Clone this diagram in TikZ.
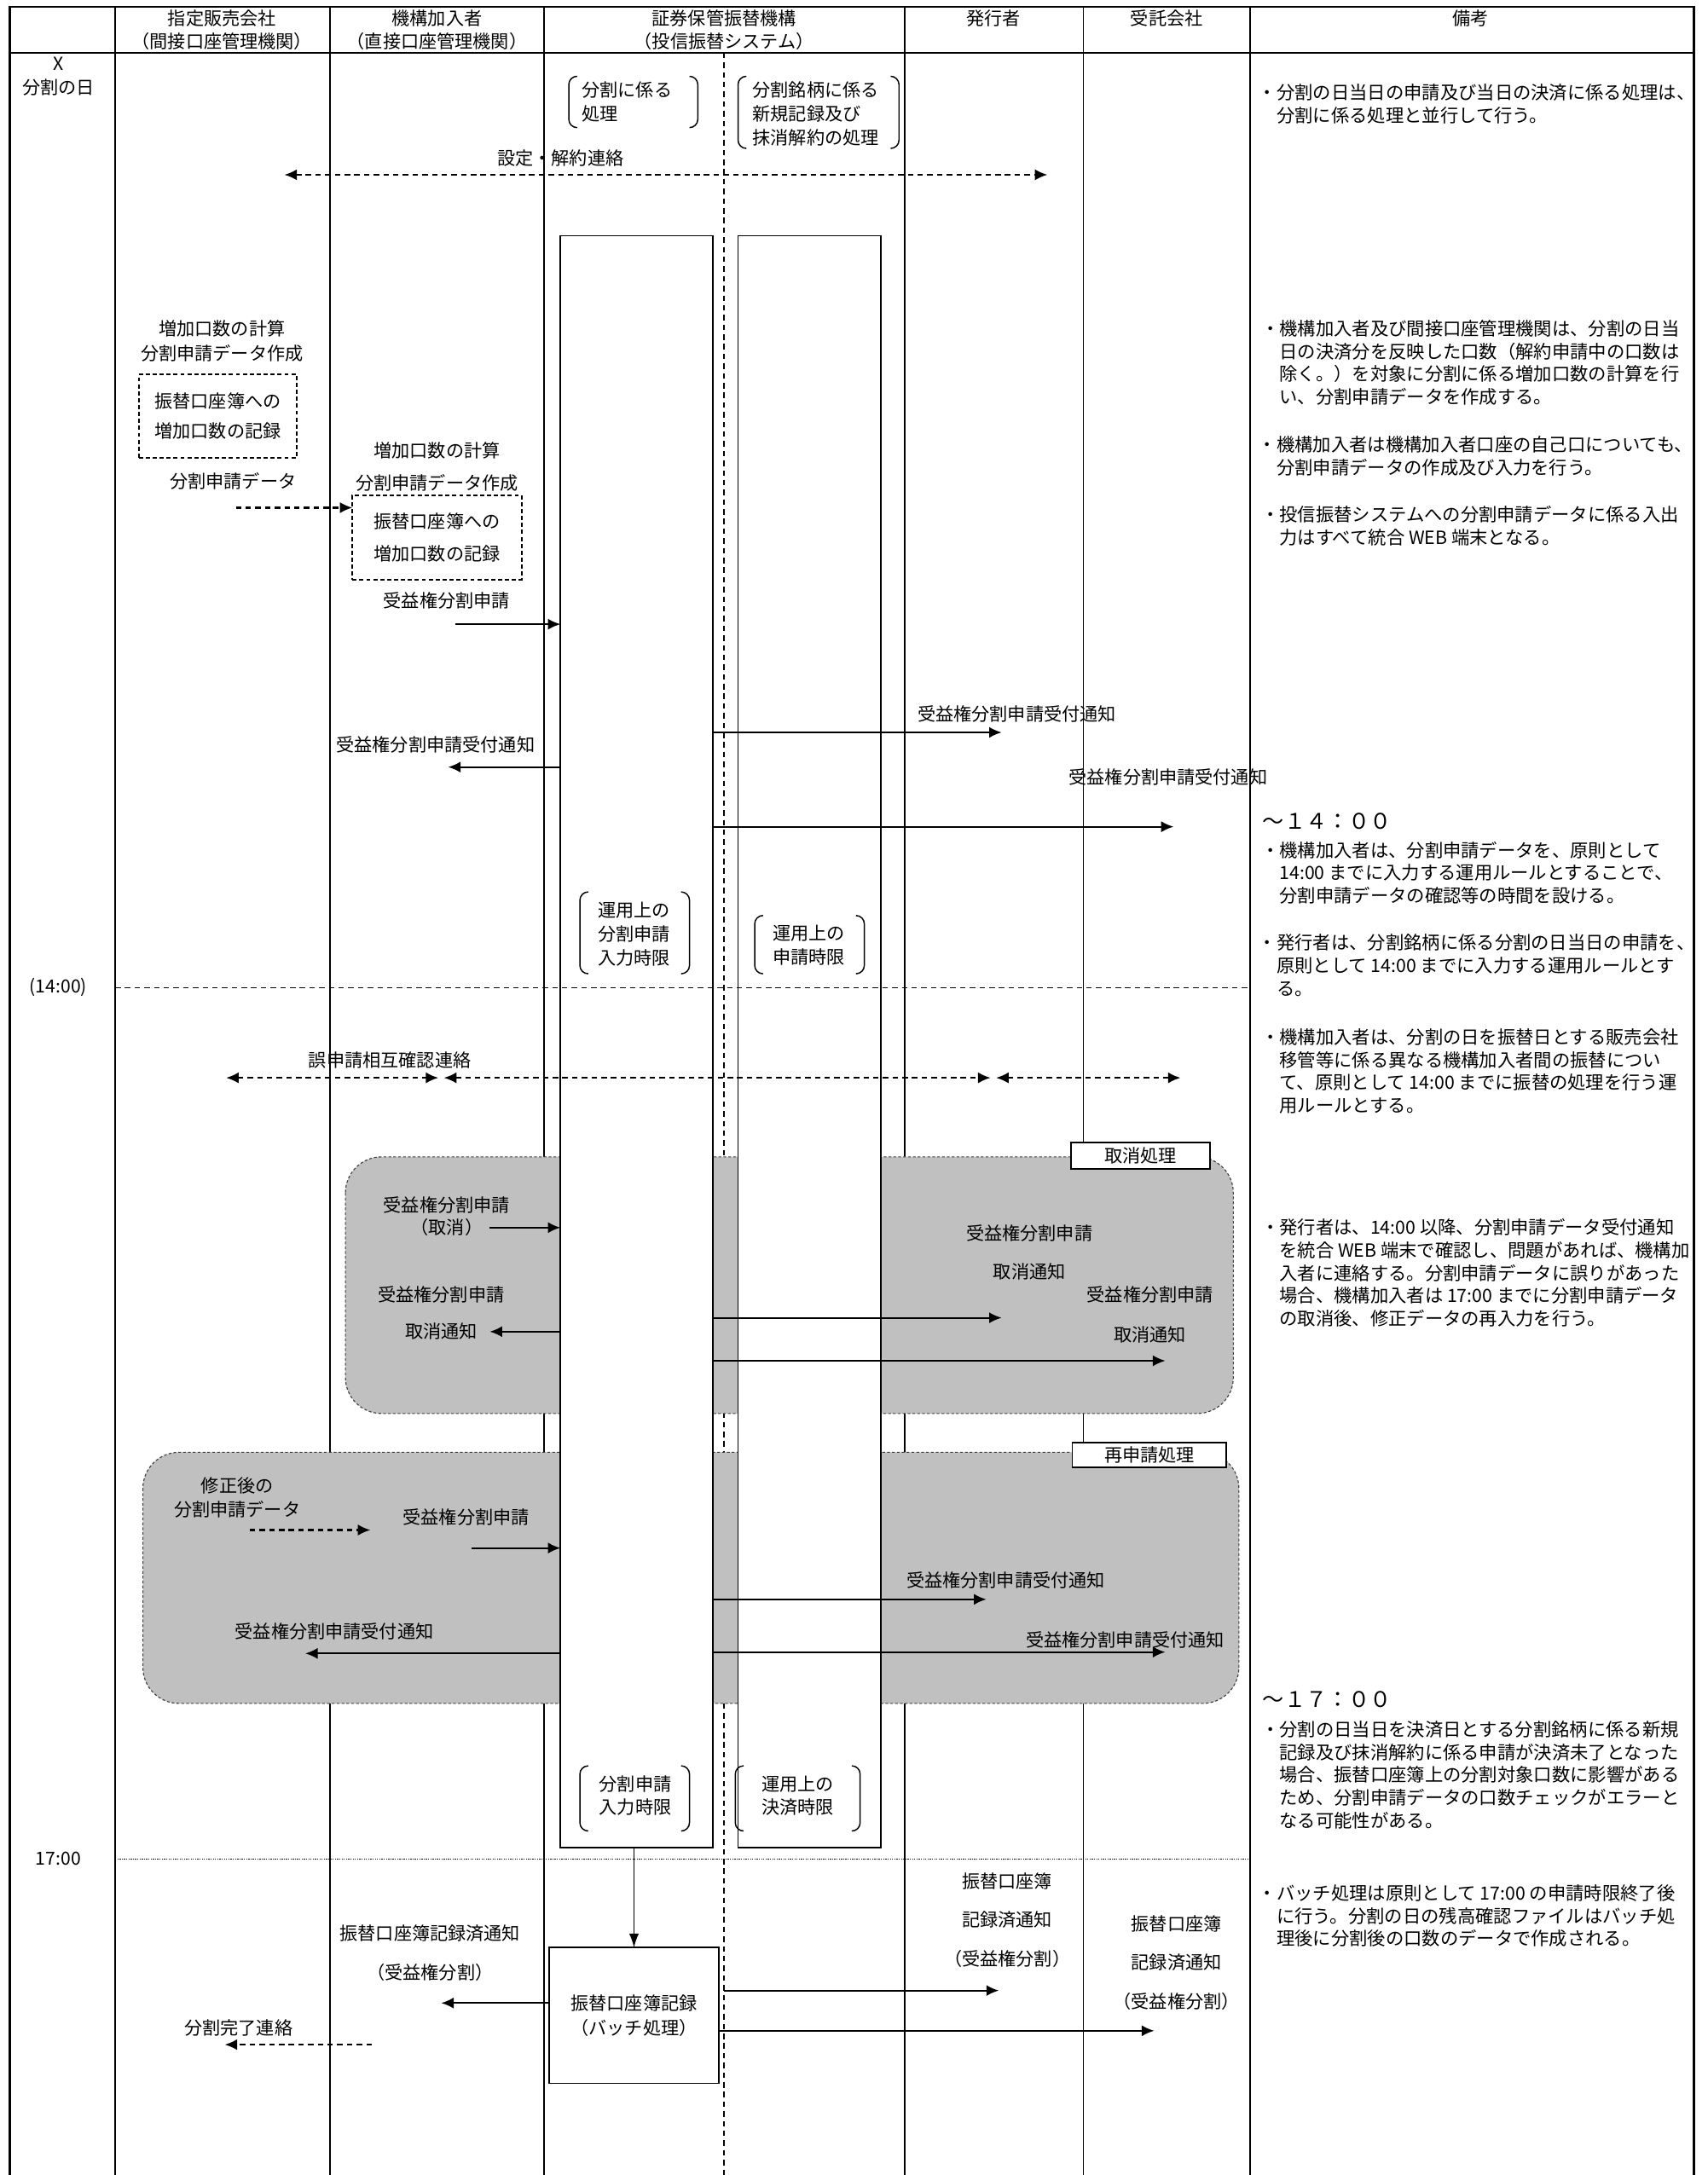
\documentclass[tikz,border=0pt]{standalone}
\usepackage{fontspec}
\setmainfont{Noto Sans CJK JP}
\usetikzlibrary{arrows.meta,calc}
\definecolor{regiongray}{RGB}{192,192,192}
\newcommand\fsL{\fontsize{13}{17}\selectfont}
\newcommand\fsR{\fontsize{13.1}{16.4}\selectfont}
\newcommand\fsT{\fontsize{15.5}{17}\selectfont}
\newcommand\mybrk[4]{%
  \draw[brk] (#1+6,#2) -- (#1,#2) -- (#1,#4) -- (#1+6,#4);
  \draw[brk] (#3-6,#2) -- (#3,#2) -- (#3,#4) -- (#3-6,#4);}
\tikzset{
  lbl/.style={inner sep=0pt, font=\fsL, align=center},
  blbl/.style={inner sep=0pt, font=\fsL, align=left},
  rem/.style={anchor=north west, inner sep=0pt, font=\fsR, align=left},
  ttl/.style={anchor=north west, inner sep=0pt, font=\fsT},
  arr/.style={-{Latex[length=9pt,width=8pt]}, line width=1.3pt},
  darr/.style={-{Latex[length=9pt,width=8pt]}, line width=1.3pt, dash pattern=on 4pt off 3pt},
  ddarr/.style={{Latex[length=9pt,width=8pt]}-{Latex[length=9pt,width=8pt]}, line width=1.3pt, dash pattern=on 4pt off 3pt},
  col/.style={line width=1pt},
  frame/.style={line width=1.5pt},
  cline/.style={line width=1pt, dash pattern=on 4pt off 3pt},
  sysbox/.style={draw, fill=white, line width=1pt, inner sep=0pt, outer sep=0pt},
  dbox/.style={draw, dash pattern=on 3pt off 2pt, line width=1pt, inner sep=0pt, outer sep=0pt, font=\fsL, align=center},
  region/.style={fill=regiongray, draw=black!75, dash pattern=on 2pt off 1.5pt, rounded corners=26pt, line width=0.7pt},
  tag/.style={draw, fill=white, line width=1pt, inner sep=0pt, font=\fsL},
  brk/.style={line width=0.9pt, rounded corners=6pt}
}
\begin{document}
\begin{tikzpicture}[x=1pt,y=-1pt]
\useasboundingbox (0,0) rectangle (1231,1568);
\fill[white] (0,0) rectangle (1231,1568);

% table columns
\foreach \cx in {83,238,392,652,781,901} \draw[col] (\cx,5) -- (\cx,1568);
\draw[frame] (7,1568) -- (7,5) -- (1221,5) -- (1221,1568);
\draw[frame] (7,38) -- (1221,38);
\draw[cline] (522,38) -- (522,1568);

% header
\node[lbl] (h1) at (160,21.5) {指定販売会社\\（間接口座管理機関）};
\node[lbl] (h2) at (315,21.5) {機構加入者\\（直接口座管理機関）};
\node[lbl] (h3) at (522,21.5) {証券保管振替機構\\（投信振替システム）};
\node[lbl] (h4) at (716,13) {発行者};
\node[lbl] (h5) at (841,13) {受託会社};
\node[lbl] (h6) at (1060,13) {備考};

% time column
\node[lbl] (t0) at (42,55) {X\\分割の日};
\node[lbl] (t1) at (42,712) {(14:00)};
\node[lbl] (t2) at (42,1340) {17:00};

% shaded regions
\draw[region] (249,834) rectangle (889,1019);
\draw[region] (103,1047) rectangle (893,1228);

% system boxes
\node[sysbox, minimum width=110, minimum height=1162, anchor=north west] (sysL) at (404,170) {};
\node[sysbox, minimum width=103, minimum height=1162, anchor=north west] (sysR) at (532,170) {};

% time lines
\draw[line width=1pt, dash pattern=on 4pt off 3pt] (83,712) -- (901,712);
\draw[line width=0.7pt, dash pattern=on 0.8pt off 0.8pt] (83,1340) -- (901,1340);

% brackets
\mybrk{410}{55}{503}{92}
\node[blbl] (b1) at (452,73.5) {分割に係る\\処理};
\mybrk{532}{55}{648}{107}
\node[blbl] (b2) at (588,82) {分割銘柄に係る\\新規記録及び\\抹消解約の処理};
\mybrk{418}{643}{497}{702}
\node[lbl] (b3) at (457,673.5) {運用上の\\分割申請\\入力時限};
\mybrk{544}{660}{623}{702}
\node[lbl] (b4) at (583,681.5) {運用上の\\申請時限};
\mybrk{418}{1273}{497}{1320}
\node[lbl] (b5) at (458,1294.5) {分割申請\\入力時限};
\mybrk{530}{1273}{620}{1320}
\node[lbl] (b6) at (575,1294.5) {運用上の\\決済時限};

% set/cancel contact
\node[lbl] (l0) at (404,114) {設定・解約連絡};
\coordinate (c0a) at (205,126);
\coordinate (c0b) at (755,126);
\draw[ddarr] (c0a) -- (c0b);

% calculation
\node[lbl, font=\fontsize{13}{18}\selectfont] (l1) at (160,246) {増加口数の計算\\分割申請データ作成};
\node[dbox, minimum width=114, minimum height=60, font=\fontsize{13}{22}\selectfont] (d1) at (157,300) {振替口座簿への\\増加口数の記録};
\node[lbl] (l2) at (168,347) {分割申請データ};
\node[lbl, font=\fontsize{13}{23}\selectfont] (l3) at (315,336.5) {増加口数の計算\\分割申請データ作成};
\node[dbox, minimum width=122, minimum height=61, font=\fontsize{13}{23}\selectfont] (d2) at (315,387.5) {振替口座簿への\\増加口数の記録};
\coordinate (c2a) at (170,366);
\draw[darr] (c2a) -- (d2.west |- c2a);

\node[lbl] (l4) at (322,433) {受益権分割申請};
\coordinate (c3a) at (328,450);
\draw[arr] (c3a) -- (sysL.west |- c3a);

\node[lbl] (l5) at (733,515) {受益権分割申請受付通知};
\coordinate (c4b) at (722,528);
\draw[arr] (sysL.east |- c4b) -- (c4b);

\node[lbl] (l6) at (314,537) {受益権分割申請受付通知};
\coordinate (c5b) at (323,553);
\draw[arr] (sysL.west |- c5b) -- (c5b);

\node[lbl] (l7) at (842,560) {受益権分割申請受付通知};
\coordinate (c6b) at (846,596);
\draw[arr] (sysL.east |- c6b) -- (c6b);

% mutual check
\node[lbl] (l8) at (281,764) {誤申請相互確認連絡};
\coordinate (c7a) at (163,777);
\coordinate (c7b) at (316,777);
\coordinate (c7c) at (320,777);
\coordinate (c7d) at (714,777);
\coordinate (c7e) at (718,777);
\coordinate (c7f) at (851,777);
\draw[ddarr] (c7a) -- (c7b);
\draw[ddarr] (c7c) -- (c7d);
\draw[ddarr] (c7e) -- (c7f);

% cancel process
\node[tag, minimum width=100, minimum height=19] (tag1) at (822,833) {取消処理};
\node[lbl, font=\fontsize{13}{16}\selectfont] (l9) at (322,877) {受益権分割申請\\（取消）};
\coordinate (c8a) at (353,885);
\draw[arr] (c8a) -- (sysL.west |- c8a);
\node[lbl, font=\fontsize{13}{27}\selectfont] (l10) at (318,946.5) {受益権分割申請\\取消通知};
\coordinate (c9b) at (353,960);
\draw[arr] (sysL.west |- c9b) -- (c9b);
\node[lbl, font=\fontsize{13}{28}\selectfont] (l11) at (742,903) {受益権分割申請\\取消通知};
\coordinate (c10b) at (722,950);
\draw[arr] (sysL.east |- c10b) -- (c10b);
\node[lbl, font=\fontsize{13}{29}\selectfont] (l12) at (829,947.5) {受益権分割申請\\取消通知};
\coordinate (c11b) at (840,981);
\draw[arr] (sysL.east |- c11b) -- (c11b);

% re-application process
\node[tag, minimum width=111, minimum height=18] (tag2) at (828.5,1049) {再申請処理};
\node[lbl] (l13) at (171,1079.5) {修正後の\\分割申請データ};
\coordinate (c12a) at (180,1103);
\coordinate (c12b) at (267,1103);
\draw[darr] (c12a) -- (c12b);
\node[lbl] (l14) at (336,1094) {受益権分割申請};
\coordinate (c13a) at (340,1116);
\draw[arr] (c13a) -- (sysL.west |- c13a);
\node[lbl] (l15) at (725,1139) {受益権分割申請受付通知};
\coordinate (c14b) at (711,1153);
\draw[arr] (sysL.east |- c14b) -- (c14b);
\node[lbl] (l16) at (241,1176) {受益権分割申請受付通知};
\coordinate (c15b) at (220,1192);
\draw[arr] (sysL.west |- c15b) -- (c15b);
\node[lbl] (l17) at (811,1182) {受益権分割申請受付通知};
\coordinate (c16b) at (840,1191);
\draw[arr] (sysL.east |- c16b) -- (c16b);

% batch
\node[sysbox, minimum width=122, minimum height=98, font=\fontsize{13}{18}\selectfont, align=center] (batch) at (457,1453) {振替口座簿記録\\（バッチ処理）};
\draw[-{Latex[length=10pt,width=7pt]}, line width=0.9pt] (batch.north |- sysL.south) -- (batch.north);

\node[lbl, font=\fontsize{13}{28}\selectfont] (l18) at (310,1408) {振替口座簿記録済通知\\（受益権分割）};
\coordinate (c17b) at (318,1444);
\draw[arr] (batch.west |- c17b) -- (c17b);
\node[lbl] (l19) at (172,1462) {分割完了連絡};
\coordinate (c18a) at (268,1474);
\coordinate (c18b) at (162,1474);
\draw[darr] (c18a) -- (c18b);
\node[lbl, font=\fontsize{13}{28}\selectfont] (l20) at (726,1384) {振替口座簿\\記録済通知\\（受益権分割）};
\coordinate (c19a) at (522,1435);
\coordinate (c19b) at (720,1435);
\draw[arr] (c19a) -- (c19b);
\node[lbl, font=\fontsize{13}{28}\selectfont] (l21) at (848,1415) {振替口座簿\\記録済通知\\（受益権分割）};
\coordinate (c20b) at (832,1464);
\draw[arr] (batch.east |- c20b) -- (c20b);

% remarks
\node[rem] (r1) at (907,60.5) {・分割の日当日の申請及び当日の決済に係る処理は、\\　分割に係る処理と並行して行う。};
\node[rem] (r2) at (909,230.5) {・機構加入者及び間接口座管理機関は、分割の日当\\　日の決済分を反映した口数（解約申請中の口数は\\　除く。）を対象に分割に係る増加口数の計算を行\\　い、分割申請データを作成する。};
\node[rem] (r3) at (907,314.5) {・機構加入者は機構加入者口座の自己口についても、\\　分割申請データの作成及び入力を行う。};
\node[rem] (r4) at (909,364.5) {・投信振替システムへの分割申請データに係る入出\\　力はすべて統合 WEB 端末となる。};
\node[ttl] (r5) at (910,586) {～１４：００};
\node[rem] (r6) at (909,606.5) {・機構加入者は、分割申請データを、原則として\\　14:00 までに入力する運用ルールとすることで、\\　分割申請データの確認等の時間を設ける。};
\node[rem] (r7) at (907,673.5) {・発行者は、分割銘柄に係る分割の日当日の申請を、\\　原則として 14:00 までに入力する運用ルールとす\\　る。};
\node[rem] (r8) at (909,741.5) {・機構加入者は、分割の日を振替日とする販売会社\\　移管等に係る異なる機構加入者間の振替につい\\　て、原則として 14:00 までに振替の処理を行う運\\　用ルールとする。};
\node[rem] (r9) at (909,878.5) {・発行者は、14:00 以降、分割申請データ受付通知\\　を統合 WEB 端末で確認し、問題があれば、機構加\\　入者に連絡する。分割申請データに誤りがあった\\　場合、機構加入者は 17:00 までに分割申請データ\\　の取消後、修正データの再入力を行う。};
\node[ttl] (r10) at (910,1219) {～１７：００};
\node[rem] (r11) at (909,1240.5) {・分割の日当日を決済日とする分割銘柄に係る新規\\　記録及び抹消解約に係る申請が決済未了となった\\　場合、振替口座簿上の分割対象口数に影響がある\\　ため、分割申請データの口数チェックがエラーと\\　なる可能性がある。};
\node[rem] (r12) at (907,1358.5) {・バッチ処理は原則として 17:00 の申請時限終了後\\　に行う。分割の日の残高確認ファイルはバッチ処\\　理後に分割後の口数のデータで作成される。};
\end{tikzpicture}
\end{document}
